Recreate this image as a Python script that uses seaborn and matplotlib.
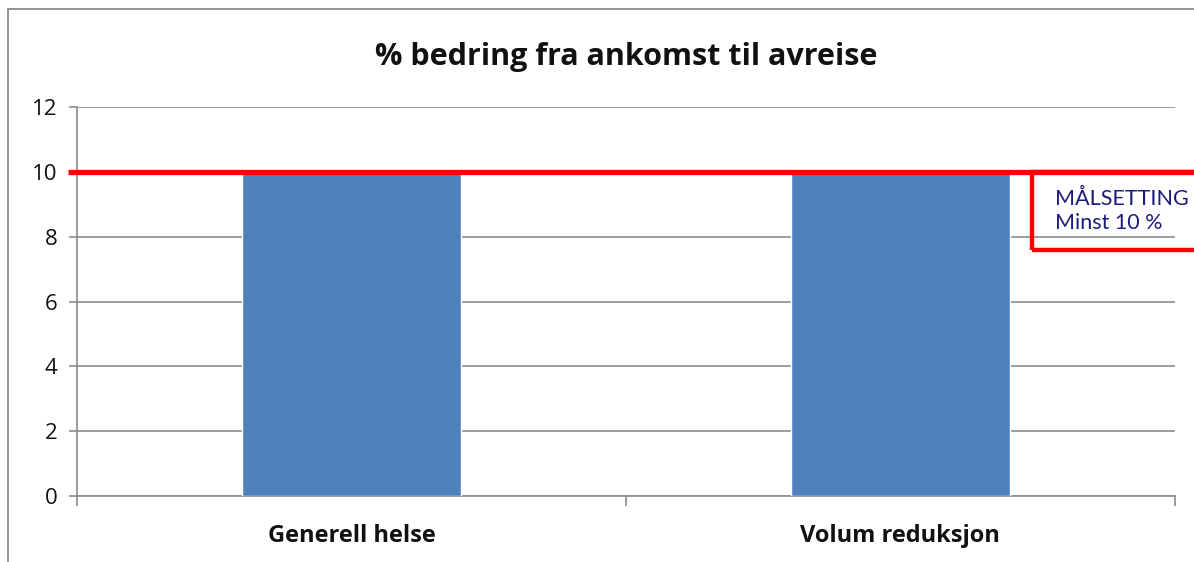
import matplotlib
matplotlib.use("Agg")
import matplotlib.pyplot as plt
import seaborn as sns
import pandas as pd
from matplotlib.patches import Rectangle

# Chart data
categories = ["Generell helse", "Volum reduksjon"]
values = [10, 10]
target = 10
yticks = [0, 2, 4, 6, 8, 10, 12]

df = pd.DataFrame({"kategori": categories, "verdi": values})

sns.set_theme(style="white")
plt.rcParams["font.family"] = ["Open Sans", "DejaVu Sans"]

fig = plt.figure(figsize=(11.94, 5.62), dpi=100)
ax = fig.add_axes([0.0645, 0.1174, 0.9195, 0.6922])

sns.barplot(data=df, x="kategori", y="verdi", color="#4f81bd",
            width=0.4, saturation=1, ax=ax, zorder=3)

ax.set_ylim(0, 12)
ax.set_xlim(-0.5, 1.5)
ax.set_yticks(yticks)
ax.set_yticklabels([str(t) for t in yticks], fontsize=16, color="#111111")
ax.yaxis.grid(True, color="#8c8c8c", linewidth=1.2)
ax.set_axisbelow(True)
ax.set_xlabel("")
ax.set_ylabel("")
ax.set_xticks([0, 1])
ax.set_xticklabels(categories, fontsize=17, fontweight="bold", color="#111111")
ax.tick_params(axis="x", length=0, pad=20)
ax.tick_params(axis="y", length=6, width=1.2, color="#8c8c8c", direction="out",
               left=True, pad=8)
# category boundary ticks on x-axis
ax.set_xticks([-0.5, 0.5, 1.5], minor=True)
ax.tick_params(axis="x", which="minor", length=7, width=1.2, color="#8c8c8c",
               bottom=True, direction="out")

for s in ["top", "right"]:
    ax.spines[s].set_visible(False)
for s in ["left", "bottom"]:
    ax.spines[s].set_color("#8c8c8c")
    ax.spines[s].set_linewidth(1.2)

# target line
ax.hlines(target, -0.517, 1.6, colors="#ff0000", linewidth=3.8,
          clip_on=False, zorder=5)

ax.set_title("% bedring fra ankomst til avreise", fontsize=22,
             fontweight="bold", color="#111111", pad=30)

# target box
fig.patches.append(Rectangle((1032 / 1194, 1 - 250 / 562), 0.2, 78 / 562,
                             transform=fig.transFigure, fill=False,
                             edgecolor="#ff0000", linewidth=3.2, clip_on=False))
fig.text(1055 / 1194, 1 - 211 / 562, "MÅLSETTING\nMinst 10 %", fontsize=15.5,
         color="#1c1c7c", va="center", ha="left", linespacing=1.25,
         family=["Lato", "DejaVu Sans"])

# outer chart border
fig.patches.append(Rectangle((8 / 1194, -0.1), 1.2, 1.1 - 9 / 562,
                             transform=fig.transFigure, fill=False,
                             edgecolor="#8c8c8c", linewidth=1.3))

fig.savefig("out.png", dpi=100)
